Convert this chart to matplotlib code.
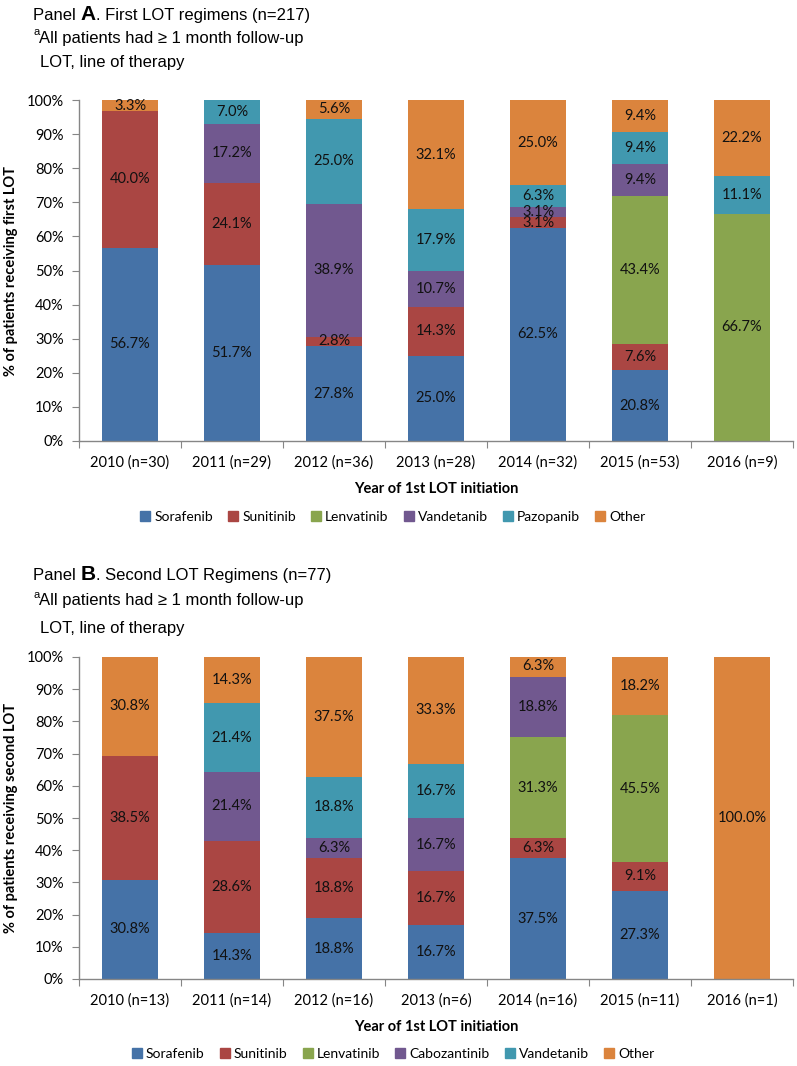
import matplotlib
matplotlib.use('Agg')
import matplotlib.pyplot as plt
import matplotlib.ticker as ticker
from matplotlib.lines import Line2D
import numpy as np

# Panel A data (first LOT), percent of patients
years_a = ['2010 (n=30)', '2011 (n=29)', '2012 (n=36)', '2013 (n=28)',
           '2014 (n=32)', '2015 (n=53)', '2016 (n=9)']
drugs_a = ['Sorafenib', 'Sunitinib', 'Lenvatinib', 'Vandetanib', 'Pazopanib', 'Other']
sorafenib_a = [56.7, 51.7, 27.8, 25.0, 62.5, 20.8, 0]
sunitinib_a = [40.0, 24.1, 2.8, 14.3, 3.1, 7.6, 0]
lenvatinib_a = [0, 0, 0, 0, 0, 43.4, 66.7]
vandetanib_a = [0, 17.2, 38.9, 10.7, 3.1, 9.4, 0]
pazopanib_a = [0, 7.0, 25.0, 17.9, 6.3, 9.4, 11.1]
other_a = [3.3, 0, 5.6, 32.1, 25.0, 9.4, 22.2]

# Panel B data (second LOT)
years_b = ['2010 (n=13)', '2011 (n=14)', '2012 (n=16)', '2013 (n=6)',
           '2014 (n=16)', '2015 (n=11)', '2016 (n=1)']
drugs_b = ['Sorafenib', 'Sunitinib', 'Lenvatinib', 'Cabozantinib', 'Vandetanib', 'Other']
sorafenib_b = [30.8, 14.3, 18.8, 16.7, 37.5, 27.3, 0]
sunitinib_b = [38.5, 28.6, 18.8, 16.7, 6.3, 9.1, 0]
lenvatinib_b = [0, 0, 0, 0, 31.3, 45.5, 0]
cabozantinib_b = [0, 21.4, 6.3, 16.7, 18.8, 0, 0]
vandetanib_b = [0, 21.4, 18.8, 16.7, 0, 0, 0]
other_b = [30.8, 14.3, 37.5, 33.3, 6.3, 18.2, 100.0]

colors_a = ['#4572A7', '#AA4643', '#89A54E', '#71588F', '#4198AF', '#DB843D']
colors_b = ['#4572A7', '#AA4643', '#89A54E', '#71588F', '#4198AF', '#DB843D']

W, H = 797, 1066
fig = plt.figure(figsize=(W / 100, H / 100), dpi=100)
fig.patch.set_facecolor('white')
renderer = fig.canvas.get_renderer()

LBL = 'Lato'
HDR = 'Liberation Sans'


def px(x, y):
    return x / W, 1 - y / H


def draw_panel(ax, cats, series, names, colors, ylabel):
    x = np.arange(len(cats))
    bottom = np.zeros(len(cats))
    for vals, name, col in zip(series, names, colors):
        vals = np.array(vals, dtype=float)
        ax.bar(x, vals, 0.55, bottom=bottom, color=col, label=name, zorder=2)
        for xi, b, v in zip(x, bottom, vals):
            if v > 0:
                ax.text(xi, b + v / 2, f'{v:.1f}%', ha='center', va='center',
                        fontsize=10.5, family=LBL, color='#111111', zorder=3)
        bottom += vals
    ax.set_xlim(-0.5, len(cats) - 0.5)
    ax.set_ylim(0, 100)
    ax.yaxis.set_major_locator(ticker.MultipleLocator(10))
    ax.yaxis.set_major_formatter(ticker.FuncFormatter(lambda v, p: f'{v:.0f}%'))
    # boundary ticks between categories, labels at centers
    ax.xaxis.set_major_locator(ticker.FixedLocator(np.arange(-0.5, len(cats), 1.0)))
    ax.xaxis.set_major_formatter(ticker.NullFormatter())
    ax.xaxis.set_minor_locator(ticker.FixedLocator(x))
    ax.set_xticklabels(cats, minor=True)
    ax.tick_params(axis='x', which='minor', length=0, pad=10, labelsize=10.5)
    ax.tick_params(axis='x', which='major', length=5, color='#868686', direction='out')
    ax.tick_params(axis='y', length=5, color='#868686', labelsize=10.5, pad=6)
    for lab in ax.get_xticklabels(minor=True) + ax.get_yticklabels():
        lab.set_family(LBL)
    for s in ['top', 'right']:
        ax.spines[s].set_visible(False)
    for s in ['left', 'bottom']:
        ax.spines[s].set_color('#868686')
        ax.spines[s].set_linewidth(1.0)
    ax.set_ylabel(ylabel, fontsize=10.5, fontweight='bold', family=LBL, labelpad=6)
    ax.set_xlabel('Year of 1st LOT initiation', fontsize=10.5, fontweight='bold',
                  family=LBL, labelpad=9)


def run_text(x0, y, parts):
    # draw text pieces one after another on a line, starting at pixel x0
    x = x0
    for s, kw in parts:
        t = fig.text(*px(x, y), s, family=HDR, va='baseline', ha='left', **kw)
        bb = t.get_window_extent(renderer=renderer)
        x += bb.width


def header(y0, letter, title_post, ys):
    run_text(33, y0 + 5, [('Panel ', dict(fontsize=12)),
                          (letter, dict(fontsize=15, fontweight='bold')),
                          (title_post, dict(fontsize=12))])
    fig.text(*px(33, ys[0] - 6), 'a', fontsize=8, family=HDR, va='center', ha='left')
    fig.text(*px(39, ys[0]), 'All patients had \u2265 1 month follow-up', fontsize=12,
             family=HDR, va='center', ha='left')
    fig.text(*px(40, ys[1]), 'LOT, line of therapy', fontsize=12, family=HDR,
             va='center', ha='left')


def legend(names, colors, y):
    handles = [Line2D([], [], marker='s', linestyle='none', markersize=6.5,
                      markerfacecolor=c, markeredgecolor=c) for c in colors]
    fig.legend(handles, names, loc='center', bbox_to_anchor=px(393, y), ncol=6,
               frameon=False, handlelength=0.7, handletextpad=0.3, columnspacing=1.1,
               prop={'family': LBL, 'size': 10})


# Panel A
axA = fig.add_axes([79 / W, 1 - 441 / H, 714 / W, 341 / H])
draw_panel(axA, years_a,
           [sorafenib_a, sunitinib_a, lenvatinib_a, vandetanib_a, pazopanib_a, other_a],
           drugs_a, colors_a, '% of patients receiving first LOT')
header(15, 'A', '. First LOT regimens (n=217)', (38, 63))
legend(drugs_a, colors_a, 517)

# Panel B
axB = fig.add_axes([79 / W, 1 - 979 / H, 714 / W, 322 / H])
draw_panel(axB, years_b,
           [sorafenib_b, sunitinib_b, lenvatinib_b, cabozantinib_b, vandetanib_b, other_b],
           drugs_b, colors_b, '% of patients receiving second LOT')
header(575, 'B', '. Second LOT Regimens (n=77)', (601, 628))
legend(drugs_b, colors_b, 1054)

fig.savefig('out.png', dpi=100, facecolor='white')
